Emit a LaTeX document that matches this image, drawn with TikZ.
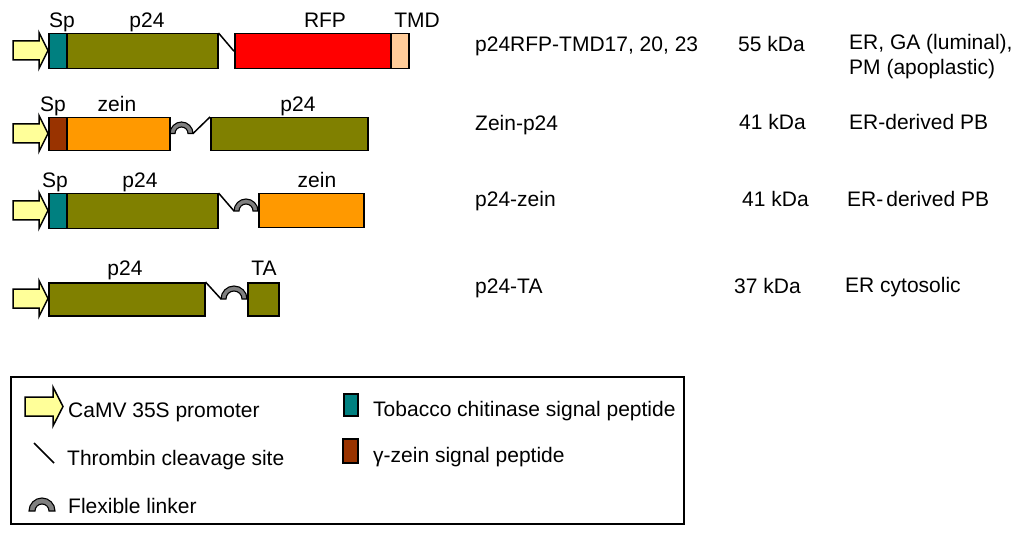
\documentclass[tikz,border=0pt]{standalone}
\usepackage{fontspec}
\setmainfont{Liberation Sans}
\usepackage{tikz}

\definecolor{sptea}{HTML}{008080}
\definecolor{spbrown}{HTML}{993300}
\definecolor{p24olive}{HTML}{808000}
\definecolor{rfpred}{HTML}{FF0000}
\definecolor{tmdpeach}{HTML}{FFCC99}
\definecolor{zeinorange}{HTML}{FF9900}
\definecolor{promoyellow}{HTML}{FFFF99}
\definecolor{linkgray}{HTML}{808080}

\begin{document}
\begin{tikzpicture}[x=1pt,y=-1pt,
    seg/.style={draw,line width=1.5pt,anchor=north west,inner sep=0pt,minimum height=35pt},
    lbl/.style={anchor=base,inner sep=0pt,font=\fontsize{21}{25}\selectfont},
    info/.style={anchor=base west,inner sep=0pt,font=\fontsize{21}{25}\selectfont},
    promo/.style={draw,line width=1.5pt,fill=promoyellow},
    thrombin/.style={line width=1.5pt},
    linker/.style={draw,line width=1.1pt,fill=linkgray}]
    \useasboundingbox (0,0) rectangle (1024,537);

    % promoters
    \foreach \y in {50.5,133.5,210.5,298.5}
        \draw[promo] (13,{\y-9.5}) -- (39,{\y-9.5}) -- (39,{\y-18}) -- (48,\y)
            -- (39,{\y+18}) -- (39,{\y+9.5}) -- (13,{\y+9.5}) -- cycle;

    % p24RFP-TMD
    \node[seg,fill=sptea,minimum width=18pt] (r1sp) at (48,33) {};
    \node[seg,fill=p24olive,minimum width=151pt] (r1p24) at (66,33) {};
    \node[seg,fill=rfpred,minimum width=156pt] (r1rfp) at (234,33) {};
    \node[seg,fill=tmdpeach,minimum width=18pt] (r1tmd) at (390,33) {};
    \draw[thrombin] (r1p24.north east) -- (r1rfp.west);
    \node[lbl] (r1sptxt) at (62,28) {Sp};
    \node[lbl] (r1p24txt) at (147,28) {p24};
    \node[lbl] (r1rfptxt) at (325,28) {RFP};
    \node[lbl] (r1tmdtxt) at (417,28) {TMD};

    % Zein-p24
    \node[seg,fill=spbrown,minimum width=18pt,minimum height=33pt] (r2sp) at (48,117) {};
    \node[seg,fill=zeinorange,minimum width=103pt,minimum height=33pt] (r2zein) at (66,117) {};
    \node[seg,fill=p24olive,minimum width=157pt,minimum height=33pt] (r2p24) at (210,117) {};
    \coordinate (r2a) at (170,133.5);
    \coordinate (r2b) at (193,133.5);
    \draw[linker] (r2a) arc[start angle=180,end angle=360,radius=11.5] -- ++(-5,0)
        arc[start angle=0,end angle=-180,radius=6.5] -- cycle;
    \draw[thrombin] (r2b) -- (r2p24.north west);
    \node[lbl] (r2sptxt) at (53,112) {Sp};
    \node[lbl] (r2zeintxt) at (117,112) {zein};
    \node[lbl] (r2p24txt) at (298,112) {p24};

    % p24-zein
    \node[seg,fill=sptea,minimum width=18pt] (r3sp) at (48,193) {};
    \node[seg,fill=p24olive,minimum width=151pt] (r3p24) at (66,193) {};
    \node[seg,fill=zeinorange,minimum width=105pt,minimum height=34pt] (r3zein) at (258,193) {};
    \coordinate (r3a) at (234,211);
    \draw[thrombin] (r3p24.north east) -- (r3a);
    \draw[linker] (r3a) arc[start angle=180,end angle=360,radius=12] -- ++(-5,0)
        arc[start angle=0,end angle=-180,radius=7] -- cycle;
    \node[lbl] (r3sptxt) at (55,188) {Sp};
    \node[lbl] (r3p24txt) at (140,188) {p24};
    \node[lbl] (r3zeintxt) at (317,188) {zein};

    % p24-TA
    \node[seg,fill=p24olive,minimum width=156pt,minimum height=33pt] (r4p24) at (48,282) {};
    \node[seg,fill=p24olive,minimum width=31pt,minimum height=33pt] (r4ta) at (247,282) {};
    \coordinate (r4a) at (221,299);
    \draw[thrombin] (r4p24.north east) -- (r4a);
    \draw[linker] (r4a) arc[start angle=180,end angle=360,radius=13] -- ++(-5,0)
        arc[start angle=0,end angle=-180,radius=8] -- cycle;
    \node[lbl] (r4p24txt) at (125,275) {p24};
    \node[lbl] (r4tatxt) at (264,275) {TA};

    % names, sizes, locations
    \node[info] (n1) at (475,52) {p24RFP-TMD17, 20, 23};
    \node[info] (k1) at (738,52) {55 kDa};
    \node[info] (l1) at (849,50) {ER, GA (luminal),};
    \node[info] (l1b) at (849,75) {PM (apoplastic)};
    \node[info] (n2) at (475,131) {Zein-p24};
    \node[info] (k2) at (739,130) {41 kDa};
    \node[info] (l2) at (849,130) {ER-derived PB};
    \node[info] (n3) at (475,207) {p24-zein};
    \node[info] (k3) at (742,207) {41 kDa};
    \node[info] (l3) at (847,207) {ER-\hspace{3pt}derived PB};
    \node[info] (n4) at (475,293) {p24-TA};
    \node[info] (k4) at (734,293) {37 kDa};
    \node[info] (l4) at (845,292) {ER cytosolic};

    % legend
    \draw[line width=1.5pt] (11,377) rectangle (684,524);
    \draw[promo] (25,397) -- (53,397) -- (53,387) -- (63,406.5) -- (53,426)
        -- (53,416) -- (25,416) -- cycle;
    \node[info] (lgpromo) at (68,417) {CaMV 35S promoter};
    \coordinate (lgta) at (34,443);
    \coordinate (lgtb) at (54,463);
    \draw[thrombin] (lgta) -- (lgtb);
    \node[info] (lgthromb) at (67,465) {Thrombin cleavage site};
    \coordinate (lgla) at (29,511);
    \draw[linker] (lgla) arc[start angle=180,end angle=360,radius=13] -- ++(-6,0)
        arc[start angle=0,end angle=-180,radius=7] -- cycle;
    \node[info] (lglink) at (68,513) {Flexible linker};
    \node[seg,fill=sptea,minimum width=14pt,minimum height=22pt] (lgsp) at (343,393) {};
    \node[info] (lgsptxt) at (373,416) {Tobacco chitinase signal peptide};
    \node[seg,fill=spbrown,minimum width=15pt,minimum height=24pt] (lgzsp) at (342,438) {};
    \node[info] (lgzsptxt) at (373,462) {γ-zein signal peptide};
\end{tikzpicture}
\end{document}
